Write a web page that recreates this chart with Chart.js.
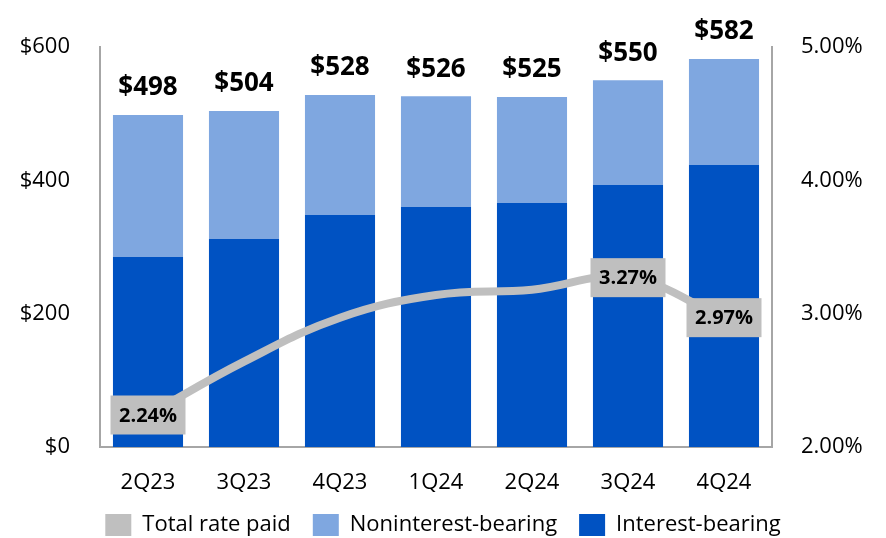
<!DOCTYPE html>
<html>
<head>
<meta charset="utf-8">
<script src="https://cdn.jsdelivr.net/npm/chart.js@4"></script>
<style>
  html, body { margin: 0; padding: 0; background: #fff; }
  #wrap { width: 886px; height: 538px; }
</style>
</head>
<body>
<div id="wrap"><canvas id="depositsChart"></canvas></div>
<script>
let quarters = ['2Q23', '3Q23', '4Q23', '1Q24', '2Q24', '3Q24', '4Q24'];
let interestBearing = [285, 312, 348, 360, 366, 393, 423];
let nonInterestBearing = [213, 192, 180, 166, 159, 157, 159];
let totals = [498, 504, 528, 526, 525, 550, 582];
let totalRatePaid = [2.24, 2.64, 2.97, 3.14, 3.18, 3.27, 2.97];
let rateLabelShown = [true, false, false, false, false, true, true];

let fontFamily = '"Open Sans", "Noto Sans", sans-serif';
let darkBlue = '#0052C2';
let lightBlue = '#7FA7E0';
let grey = '#BFBFBF';
let axisGrey = '#A6A6A6';

// totals above bars + boxed rate labels
let labelPlugin = {
    id: 'labelPlugin',
    afterDatasetsDraw: function (chart) {
        let ctx = chart.ctx;
        let yScale = chart.scales.y;
        let lineMeta = chart.getDatasetMeta(0);
        let barMeta = chart.getDatasetMeta(2);
        ctx.save();
        ctx.fillStyle = '#000';
        ctx.textAlign = 'center';
        ctx.textBaseline = 'middle';
        ctx.font = 'bold 26px ' + fontFamily;
        totals.forEach(function (value, i) {
            let x = barMeta.data[i].x;
            let y = yScale.getPixelForValue(value);
            ctx.fillText('$' + value, x, y - 27);
        });
        ctx.font = 'bold 20px ' + fontFamily;
        totalRatePaid.forEach(function (value, i) {
            if (!rateLabelShown[i]) return;
            let pt = lineMeta.data[i];
            let w = 75, h = 39;
            ctx.fillStyle = grey;
            ctx.fillRect(pt.x - w / 2, pt.y - h / 2, w, h);
            ctx.fillStyle = '#000';
            ctx.fillText(value.toFixed(2) + '%', pt.x, pt.y + 1);
        });
        ctx.restore();
    }
};

new Chart(document.getElementById('depositsChart'), {
    type: 'bar',
    data: {
        labels: quarters,
        datasets: [
            {
                type: 'line',
                label: 'Total rate paid',
                data: totalRatePaid,
                yAxisID: 'y1',
                borderColor: grey,
                backgroundColor: grey,
                borderWidth: 8,
                pointRadius: 0,
                tension: 0.4,
                fill: false,
                order: 0
            },
            {
                label: 'Interest-bearing',
                data: interestBearing,
                backgroundColor: darkBlue,
                stack: 'deposits',
                order: 1
            },
            {
                label: 'Noninterest-bearing',
                data: nonInterestBearing,
                backgroundColor: lightBlue,
                stack: 'deposits',
                order: 1
            }
        ]
    },
    options: {
        responsive: true,
        maintainAspectRatio: false,
        animation: false,
        datasets: {
            bar: { categoryPercentage: 1, barPercentage: 0.73 }
        },
        layout: {
            padding: { top: 47, bottom: -8, left: 0, right: 0 }
        },
        plugins: {
            tooltip: { enabled: false },
            legend: {
                position: 'bottom',
                labels: {
                    color: '#000',
                    font: { family: fontFamily, size: 22 },
                    boxWidth: 26,
                    boxHeight: 22,
                    padding: 22,
                    sort: function (a, b) {
                        let rank = { 'Total rate paid': 0, 'Noninterest-bearing': 1, 'Interest-bearing': 2 };
                        return rank[a.text] - rank[b.text];
                    },
                    generateLabels: function (chart) {
                        let items = Chart.defaults.plugins.legend.labels.generateLabels(chart);
                        items.forEach(function (item) {
                            item.lineWidth = 0;
                            item.strokeStyle = item.fillStyle;
                        });
                        return items;
                    }
                }
            }
        },
        scales: {
            x: {
                stacked: true,
                grid: { display: false },
                border: { display: true, color: axisGrey, width: 2 },
                ticks: { color: '#000', font: { family: fontFamily, size: 22 }, padding: 15 },
                afterFit: function (scale) { scale.height = 45; }
            },
            y: {
                stacked: true,
                min: 0,
                max: 600,
                position: 'left',
                grid: { display: false },
                border: { display: true, color: axisGrey, width: 2 },
                ticks: {
                    stepSize: 200,
                    color: '#000',
                    padding: 22,
                    font: { family: fontFamily, size: 22 },
                    callback: function (v) { return '$' + v; }
                },
                afterFit: function (scale) { scale.width = 100; }
            },
            y1: {
                min: 2,
                max: 5,
                position: 'right',
                grid: { display: false },
                border: { display: true, color: axisGrey, width: 2 },
                ticks: {
                    stepSize: 1,
                    color: '#000',
                    padding: 21,
                    font: { family: fontFamily, size: 22 },
                    callback: function (v) { return v.toFixed(2) + '%'; }
                },
                afterFit: function (scale) { scale.width = 114; }
            }
        }
    },
    plugins: [labelPlugin]
});
</script>
</body>
</html>
